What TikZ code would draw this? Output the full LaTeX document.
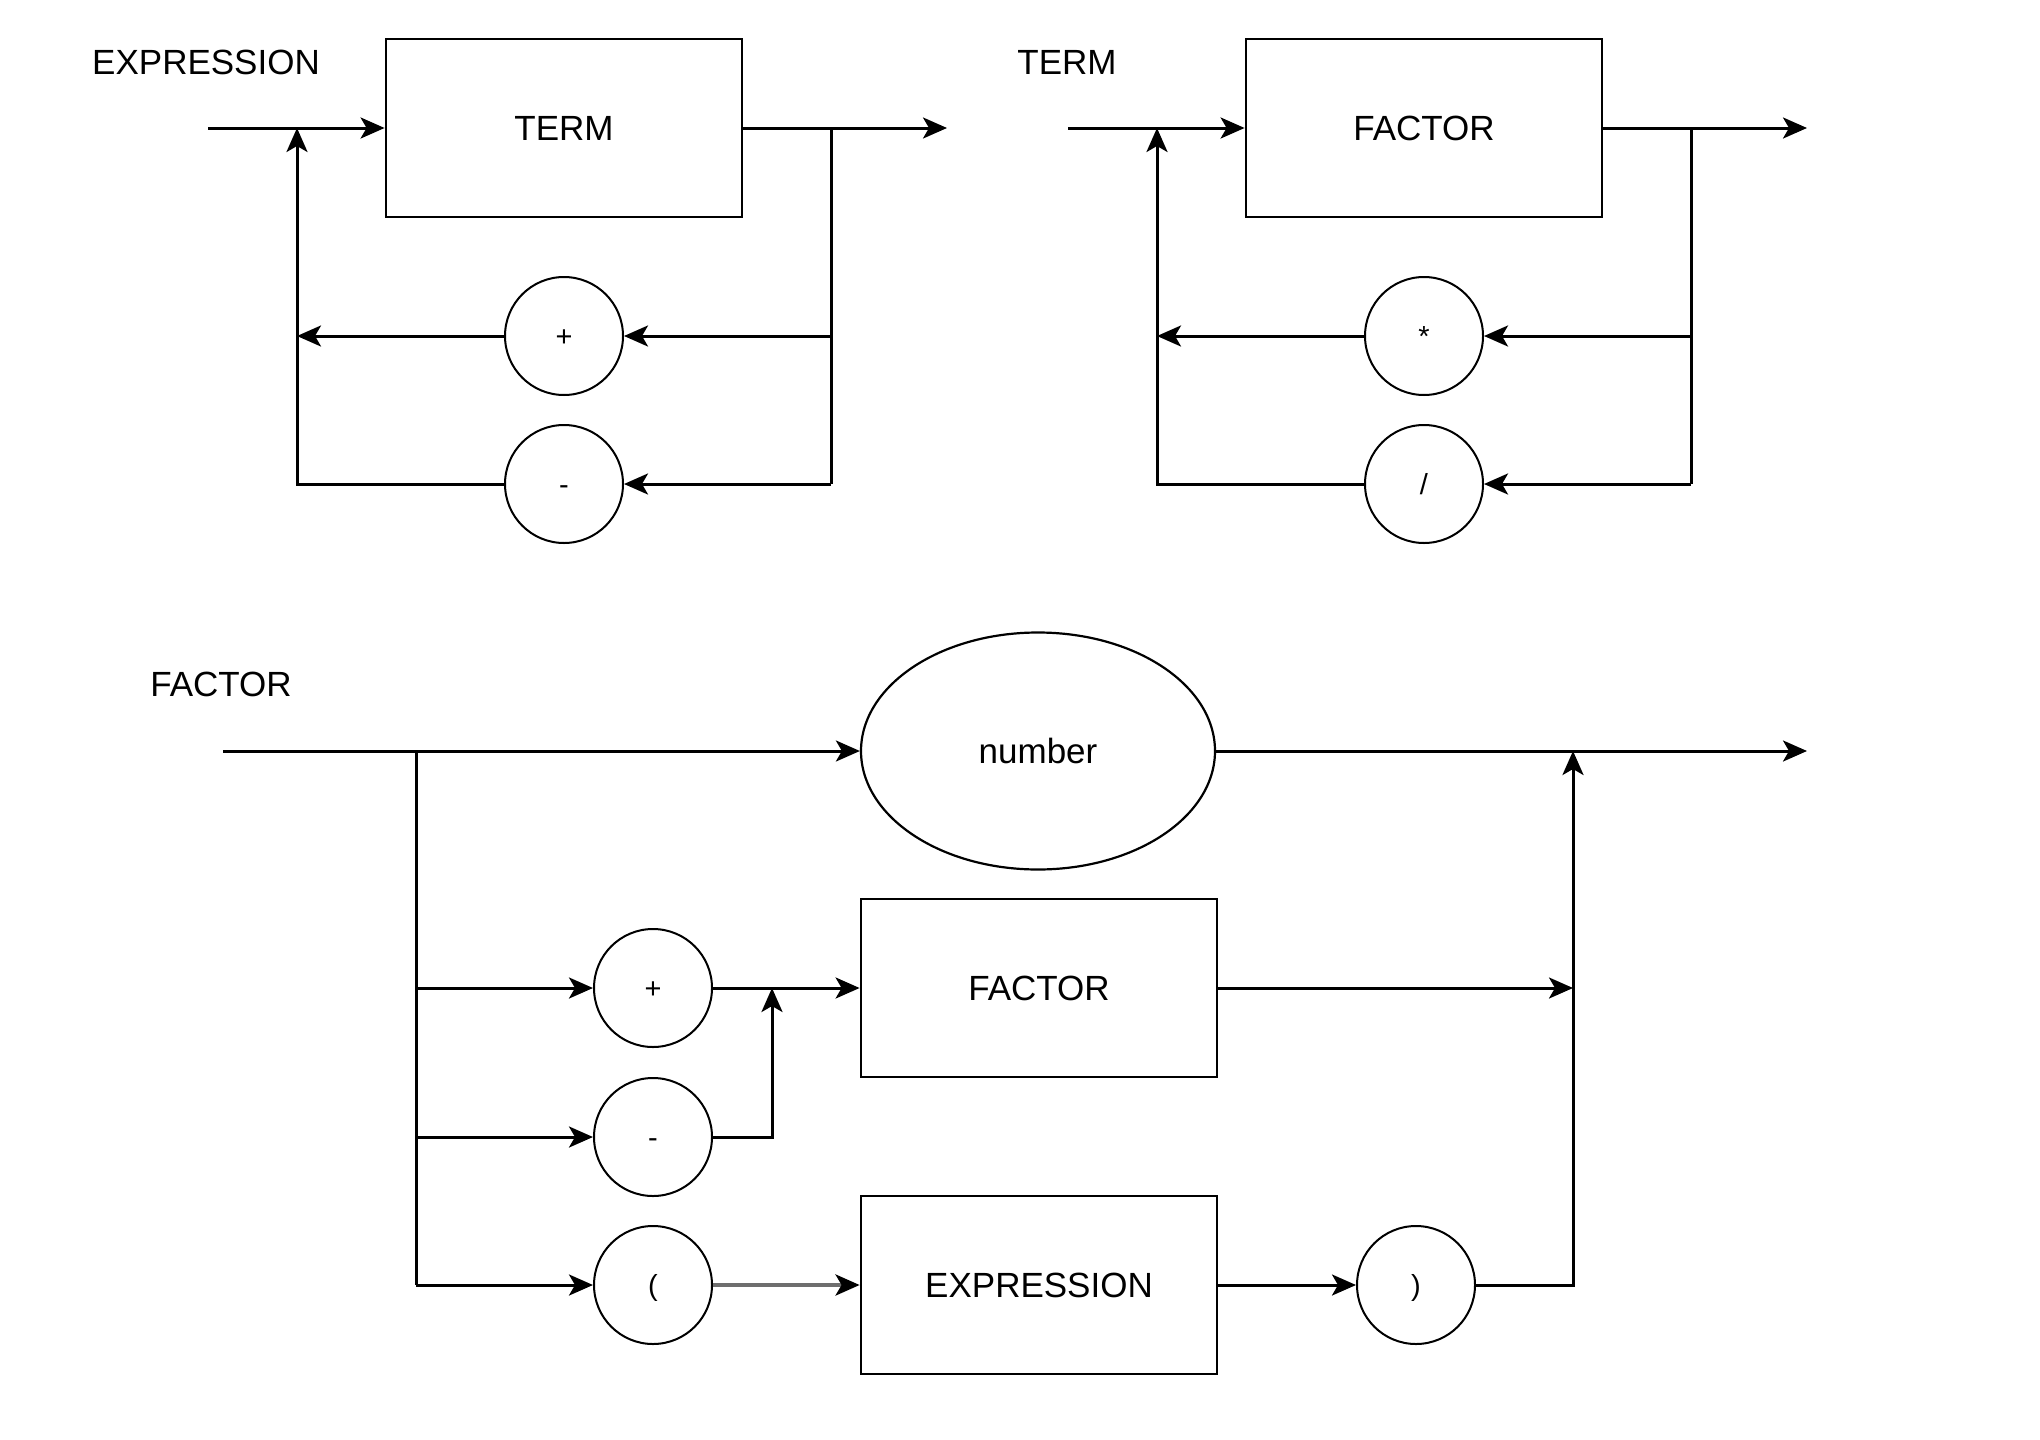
\documentclass[tikz,border=0pt]{standalone}
\usepackage{fontspec}
\setmainfont{Liberation Sans}
\usetikzlibrary{arrows.meta,shapes.geometric}
\definecolor{midgray}{RGB}{110,110,110}
\begin{document}
\begin{tikzpicture}[x=0.5pt,y=-0.5pt,
  line/.style={line width=1.5pt},
  tip/.style={-{Stealth[length=12pt,width=10.5pt,inset=3pt]}},
  arr/.style={line width=1.5pt,tip},
  box/.style={draw,line width=1.4pt,minimum width=178pt,minimum height=89pt,inner sep=0pt,
    font=\fontsize{17.5}{20}\selectfont,text height=12.5pt,text depth=0pt},
  oval/.style={draw,ellipse,line width=1.1pt,minimum width=177pt,minimum height=118.5pt,inner sep=0pt,
    font=\fontsize{17.5}{20}\selectfont,text height=12.5pt,text depth=0pt},
  sym/.style={draw,circle,line width=1pt,minimum size=59pt,inner sep=0pt,
    font=\fontsize{14.5}{16}\selectfont,text height=10.4pt,text depth=0pt},
  title/.style={inner sep=0pt,font=\fontsize{17.5}{20}\selectfont,text height=12.5pt,text depth=0pt}
]
\useasboundingbox (0,0) rectangle (2040,1440);

% ---------- EXPRESSION ----------
\node[title] (lexpr) at (206,62) {EXPRESSION};
\node[box] (term) at (564,128) {TERM};
\coordinate (e0) at (208,128);
\coordinate (ej1) at (297,128);
\coordinate (ej2) at (831,128);
\coordinate (e1) at (947,128);
\node[sym] (eplus) at (564,336) {+};
\node[sym] (eminus) at (564,484) {-};
\draw[arr] (e0) -- (term.west);
\draw[arr] (term.east) -- (e1);
\draw[line] (ej2) -- (ej2 |- eminus.east);
\draw[arr] (ej2 |- eplus.east) -- (eplus.east);
\draw[arr] (ej2 |- eminus.east) -- (eminus.east);
\draw[arr] (eplus.west) -- (ej1 |- eplus.west);
\draw[arr] (eminus.west) -| (ej1);

% ---------- TERM ----------
\node[title] (lterm) at (1067,62) {TERM};
\node[box] (factor) at (1424,128) {FACTOR};
\coordinate (t0) at (1068,128);
\coordinate (tj1) at (1157,128);
\coordinate (tj2) at (1691,128);
\coordinate (t1) at (1807,128);
\node[sym] (tmul) at (1424,336) {*};
\node[sym] (tdiv) at (1424,484) {/};
\draw[arr] (t0) -- (factor.west);
\draw[arr] (factor.east) -- (t1);
\draw[line] (tj2) -- (tj2 |- tdiv.east);
\draw[arr] (tj2 |- tmul.east) -- (tmul.east);
\draw[arr] (tj2 |- tdiv.east) -- (tdiv.east);
\draw[arr] (tmul.west) -- (tj1 |- tmul.west);
\draw[arr] (tdiv.west) -| (tj1);

% ---------- FACTOR ----------
\node[title] (lfactor) at (221,684) {FACTOR};
\node[oval] (number) at (1038,751) {number};
\node[box] (fbox) at (1039,988) {FACTOR};
\node[box] (xbox) at (1039,1285) {EXPRESSION};
\node[sym] (fplus) at (653,988) {+};
\node[sym] (fminus) at (653,1137) {-};
\node[sym] (lpar) at (653,1285) {(};
\node[sym] (rpar) at (1416,1285) {)};
\coordinate (f0) at (223,751);
\coordinate (fb) at (416,751);
\coordinate (fm) at (772,988);
\coordinate (fj) at (1573,751);
\coordinate (f1) at (1807,751);
\draw[arr] (f0) -- (number.west);
\draw[line] (fb) -- (fb |- lpar.west);
\draw[arr] (fb |- fplus.west) -- (fplus.west);
\draw[arr] (fb |- fminus.west) -- (fminus.west);
\draw[arr] (fb |- lpar.west) -- (lpar.west);
\draw[arr] (fplus.east) -- (fbox.west);
\draw[arr] (fminus.east) -| (fm);
\draw[line width=2pt,midgray,-{Stealth[length=12pt,width=10.5pt,inset=3pt,black]}] (lpar.east) -- (xbox.west);
\draw[arr] (xbox.east) -- (rpar.west);
\draw[arr] (rpar.east) -| (fj);
\draw[arr] (fbox.east) -- (fj |- fbox.east);
\draw[arr] (number.east) -- (f1);
\end{tikzpicture}
\end{document}
